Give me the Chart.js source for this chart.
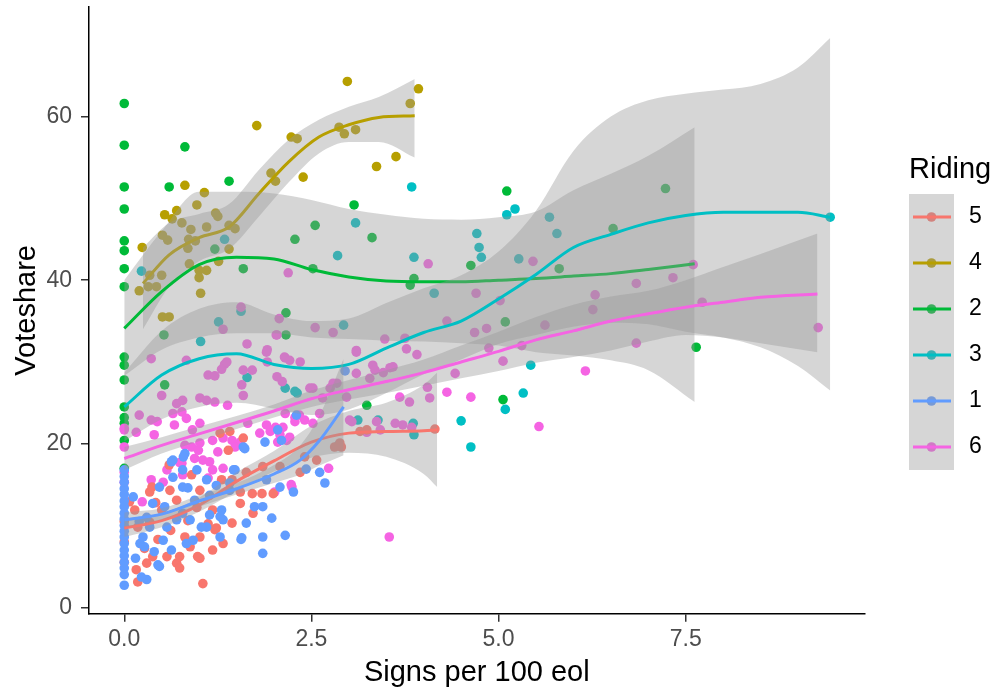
<!DOCTYPE html>
<html>
<head>
<meta charset="utf-8">
<script src="https://cdn.jsdelivr.net/npm/chart.js@4.4.1/dist/chart.umd.min.js"></script>
<style>
  html, body { margin: 0; padding: 0; background: #ffffff; }
</style>
</head>
<body>
<canvas id="myChart" width="993" height="698"></canvas>
<script>
// riding order as in the legend (factor levels)
var ridings = ['5', '4', '2', '3', '1', '6'];
var colours = ['#F8766D', '#B79F00', '#00BA38', '#00BFC4', '#619CFF', '#F564E3'];

var xTicks = [0, 2.5, 5, 7.5];
var yTicks = [0, 20, 40, 60];

// observed points [signs per 100 eol, voteshare]
var pts5 = [[1.05,2.9],[0.18,3.1],[0.16,4.6],[0.30,5.4],[0.38,6.2],[0.70,5.4],[0.74,6.2],[0.57,6.2],[0.98,6.2],[1.18,7.0],
  [0.88,7.4],[0.81,8.6],[1.01,8.6],[1.23,9.7],[1.44,10.3],[1.55,12.7],[1.72,11.5],[1.84,13.9],[1.71,13.9],[1.55,14.1],
  [1.18,11.9],[0.97,12.2],[0.50,11.9],[0.70,13.1],[1.01,14.3],[0.61,14.3],[0.34,14.1],[0.37,14.7],[1.30,15.6],[1.44,15.6],
  [1.63,16.5],[1.85,17.2],[2.08,17.2],[1.59,20.7],[1.41,21.5],[1.28,21.3],[1.39,19.2],[0.34,10.4],[0.18,9.8],[0.14,11.9],
  [0.07,12.9],[0.74,4.8],[1.01,6.0],[1.32,7.8],[1.21,9.5],[1.99,13.9],[2.35,16.5],[2.57,18.0],[2.41,18.4],[2.81,19.6],
  [2.90,19.6],[4.15,21.8],[3.24,21.7],[3.15,21.5],[2.88,20.1],[0.27,7.2],[0.45,8.3],[0.62,9.4],[0.85,10.6],[1.12,10.2],
  [0.42,12.8],[0.90,16.2],[0.60,17.4],[0,5.5],[0,8.0],[0,10.5]];
var pts4 = [[2.98,64.3],[3.93,63.4],[3.82,61.6],[1.77,58.9],[2.23,57.5],[2.31,57.3],[2.87,58.7],[2.94,57.9],[3.09,58.4],[3.63,55.1],
  [3.37,53.9],[2.39,52.6],[1.96,53.1],[2.02,52.1],[0.81,51.6],[1.07,50.7],[0.97,49.2],[0.54,48.0],[0.70,48.5],[0.64,47.5],
  [1.22,48.2],[1.25,47.8],[0.77,47.0],[0.89,46.2],[1.10,46.5],[1.48,46.3],[1.40,46.7],[0.51,45.5],[0.58,44.9],[0.86,45.0],
  [0.95,44.8],[0.24,44.0],[0.85,43.9],[1.40,43.8],[0.87,42.0],[1.00,41.2],[0.50,40.6],[1.10,41.2],[1.00,40.3],[1.26,42.3],
  [0.20,38.7],[0.32,39.2],[0.43,39.2],[1.02,38.4],[0.51,35.5],[0.60,35.5],[0.34,40.6]];
var pts2 = [[0,61.6],[0,56.5],[0,51.4],[0,48.7],[0,44.8],[0,43.6],[0,41.4],[0,39.2],[0,30.6],[0,29.6],
  [0,27.8],[0,24.5],[0,23.2],[0,22.5],[0,20.4],[0,17.0],[0.81,56.3],[0.60,51.4],[1.40,52.1],[3.07,49.2],
  [2.55,46.7],[2.28,45.0],[3.31,45.2],[1.21,43.8],[1.59,41.4],[3.87,40.2],[3.82,39.4],[2.16,36.0],[0.53,33.3],[2.16,33.3],
  [2.52,41.4],[0.54,27.2],[3.24,24.7],[5.11,50.9],[7.23,51.2],[6.53,46.3],[4.63,41.8],[5.81,41.4],[5.09,34.9],[7.64,31.8],
  [5.06,25.4]];
var pts3 = [[3.84,51.4],[1.34,45.0],[3.09,47.0],[2.85,43.0],[3.87,42.8],[4.71,45.7],[4.74,44.0],[4.77,42.8],[4.14,38.4],[0.23,41.1],
  [1.56,36.2],[1.26,34.9],[2.93,34.5],[1.02,32.5],[5.11,48.0],[5.22,48.7],[5.68,47.7],[5.78,45.7],[5.27,42.6],[9.43,47.7],
  [5.43,29.6],[4.50,22.8],[4.63,19.6],[5.33,26.2],[5.09,24.2],[2.31,26.2],[3.12,22.9],[3.39,22.9],[3.86,22.5],[3.87,21.1],
  [2.86,19.8],[1.64,28.1],[2.15,26.8],[2.28,26.4]];
var pts1 = [[0,2.7],[0,4.0],[0,4.8],[0,5.5],[0,6.3],[0,7.0],[0,7.8],[0,8.6],[0,9.3],[0,10.0],
  [0,10.8],[0,11.5],[0,12.3],[0,13.0],[0,13.8],[0,14.5],[0,15.3],[0,16.0],[0,16.8],[0.30,3.4],
  [0.45,5.2],[0.21,7.8],[0.25,8.6],[0.52,8.2],[0.63,7.0],[0.83,7.8],[0.92,8.2],[0.34,9.8],[0.57,9.8],[0.70,10.7],
  [0.88,10.7],[1.10,9.8],[0.78,11.5],[1.14,11.3],[1.30,11.9],[1.32,10.7],[1.28,8.6],[1.57,8.5],[1.85,8.6],[1.85,6.6],
  [2.15,8.8],[1.63,10.3],[1.74,12.3],[1.85,12.3],[1.97,10.9],[0.54,12.3],[0.38,12.7],[0.94,13.1],[1.14,13.7],[0.78,14.7],
  [0.47,14.7],[0.65,15.9],[0.78,16.8],[0.63,17.8],[0.97,16.8],[0.81,18.8],[1.23,14.9],[1.41,15.2],[1.59,19.6],[1.88,20.2],
  [1.90,15.6],[1.48,16.8],[2.10,20.4],[2.30,23.5],[1.56,8.3],[1.28,11.1],[1.03,9.8],[0.23,3.7],[0.47,5.0],[0.27,7.4],
  [2.08,14.7],[2.26,14.1],[2.43,16.9],[2.61,16.5],[2.68,15.2],[2.05,21.7],[1.61,19.4],[0.65,18.0],[0.79,18.4],[1.10,15.6],
  [0.85,14.6],[1.46,16.8],[1.41,14.3],[2.95,28.9],[0.15,6.0],[0.20,10.5],[0.12,13.5],[0.30,11.0],[0.40,6.8]];
var pts6 = [[2.19,40.9],[1.56,36.7],[2.07,35.3],[1.32,34.0],[0.36,30.4],[0.83,30.2],[1.64,32.2],[1.91,31.5],[2.04,33.3],[2.15,30.5],
  [1.34,29.7],[1.30,29.1],[1.12,28.4],[1.21,28.3],[1.59,29.0],[1.71,29.0],[2.04,28.2],[2.11,27.6],[1.57,27.2],[1.59,25.9],
  [0.50,25.9],[0.70,24.9],[0.78,25.3],[1.01,25.6],[1.10,25.3],[1.21,25.1],[1.38,24.7],[0.65,23.7],[0.77,23.9],[0.83,23.1],
  [0.20,23.5],[0.36,22.9],[0.44,22.7],[0.67,22.3],[0.91,21.7],[0.16,21.4],[0,21.7],[0.40,21.1],[1.01,22.5],[2.15,23.7],
  [2.02,22.0],[2.28,22.7],[1.91,30.0],[4.06,42.0],[4.70,38.4],[2.55,34.2],[2.79,33.6],[2.03,33.3],[4.31,35.0],[4.68,33.6],
  [4.84,34.1],[5.46,42.3],[5.02,37.5],[6.29,38.2],[6.26,36.4],[6.84,39.6],[7.33,40.3],[7.60,41.9],[7.72,37.3],[9.27,34.2],
  [5.62,34.5],[4.87,31.7],[5.31,32.0],[6.84,32.3],[5.06,30.1],[6.16,28.9],[5.54,22.1],[4.63,25.7],[4.42,28.6],[3.54,8.6],
  [4.31,26.3],[2.73,17.0],[2.23,15.0],[2.01,14.1],[0.24,12.9],[1.32,20.7],[1.44,20.4],[1.55,20.2],[1.01,20.1],[0.90,19.6],
  [0.94,18.2],[1.05,18.0],[1.14,17.8],[1.32,17.0],[0.77,17.6],[0.78,16.2],[1.12,15.8],[0.52,15.3],[0.36,15.6],[1.81,21.3],
  [1.95,21.5],[2.08,21.1],[2.21,20.8],[1.48,19.6],[1.25,19.0],[2.24,14.7],[0,19.6],[0,15.3],[1.18,20.4],[1.65,22.5],
  [1.90,22.3],[2.12,22.0],[2.05,20.2],[2.17,20.4],[0.81,19.8],[0.99,19.2],[1.18,16.8],[0.74,17.7],[0.57,16.8],[0,21.9],
  [0,16.5],[1.37,30.0],[1.90,31.2],[2.14,30.6],[2.35,30.0],[3.10,31.2],[3.77,31.6],[3.91,30.9],[3.32,29.6],[3.46,28.7],
  [3.59,29.4],[3.10,28.6],[2.79,27.4],[2.52,26.8],[2.97,25.7],[3.68,25.7],[3.81,25.1],[4.08,25.6],[3.62,22.5],[3.72,22.3],
  [3.84,22.0],[3.01,22.9],[3.24,21.4],[3.42,21.7],[3.48,32.8],[3.75,32.9],[3.10,31.4],[4.05,26.9],[3.28,28.0],[3.35,29.0],
  [3.55,29.3],[2.48,26.8],[2.65,25.6],[2.75,26.8],[2.84,27.4],[3.04,22.7],[3.37,22.7],[2.28,23.2],[2.34,23.5],[2.61,23.7],
  [2.41,22.9],[2.52,22.5],[2.21,30.2]];

// loess fits: x, fitted value, lower and upper band
var fit5x  = [0, 0.5, 1.0, 1.5, 2.0, 2.5, 3.0, 3.5, 4.0, 4.18];
var fit5y  = [9.7, 10.6, 12.5, 15.4, 17.9, 20.2, 21.3, 21.5, 21.6, 21.7];
var fit5lo = [8.6, 9.8, 11.7, 14.2, 16.6, 18.3, 18.9, 18.4, 16.3, 14.7];
var fit5hi = [10.8, 11.5, 13.4, 16.5, 19.1, 22.2, 24.0, 25.0, 27.2, 28.7];

var fit4x  = [0.25, 0.6, 1.0, 1.4, 1.8, 2.2, 2.6, 3.0, 3.4, 3.88];
var fit4y  = [39.6, 43.1, 45.2, 46.5, 50.6, 54.5, 57.5, 59.0, 59.9, 60.1];
var fit4lo = [34.0, 39.2, 42.3, 43.8, 47.8, 52.0, 55.5, 56.9, 56.9, 55.0];
var fit4hi = [44.0, 47.0, 48.1, 49.3, 53.5, 57.2, 59.6, 61.2, 62.4, 64.6];

var fit2x  = [0, 0.5, 1.0, 1.5, 2.0, 2.5, 3.0, 3.5, 4.0, 4.5, 5.0, 5.5, 6.0, 6.5, 7.0, 7.62];
var fit2y  = [34.1, 38.6, 41.9, 42.8, 42.6, 41.3, 40.4, 39.9, 39.8, 39.8, 40.0, 40.2, 40.5, 40.8, 41.3, 42.0];
var fit2lo = [28.3, 31.5, 33.0, 33.5, 33.5, 33.0, 32.8, 32.6, 32.5, 32.3, 32.0, 31.2, 30.8, 30.2, 29.0, 25.1];
var fit2hi = [40.0, 46.0, 50.8, 50.8, 50.6, 49.8, 48.7, 48.0, 47.5, 47.4, 47.7, 48.4, 51.0, 53.0, 55.2, 58.7];

var fit3x  = [0, 0.5, 1.0, 1.5, 2.0, 2.5, 3.0, 3.5, 4.0, 4.5, 5.0, 5.5, 6.0, 6.5, 7.0, 7.5, 8.0, 8.5, 9.0, 9.43];
var fit3y  = [24.5, 28.4, 30.4, 31.0, 29.7, 29.2, 29.7, 31.7, 33.6, 35.0, 37.7, 40.7, 44.0, 45.6, 47.0, 47.9, 48.3, 48.3, 48.3, 47.7];
var fit3lo = [20.3, 23.0, 24.5, 25.0, 24.3, 23.5, 24.2, 26.2, 28.5, 30.3, 32.2, 33.3, 34.3, 34.8, 34.6, 33.7, 33.0, 31.8, 29.5, 26.5];
var fit3hi = [28.7, 33.8, 36.5, 37.3, 35.8, 35.0, 35.3, 37.2, 39.0, 40.6, 43.5, 48.5, 55.8, 60.0, 62.0, 62.8, 63.3, 64.0, 66.0, 69.6];

var fit1x  = [0, 0.5, 1.0, 1.5, 2.0, 2.35, 2.6, 2.93];
var fit1y  = [10.7, 11.4, 13.0, 14.5, 16.3, 18.0, 20.3, 24.5];
var fit1lo = [9.8, 10.7, 12.3, 13.8, 15.2, 16.2, 17.3, 18.6];
var fit1hi = [11.6, 12.1, 13.7, 15.2, 17.4, 19.8, 23.3, 30.4];

var fit6x  = [0, 0.5, 1.0, 1.5, 2.0, 2.5, 3.0, 3.5, 4.0, 4.5, 5.0, 5.5, 6.0, 6.5, 7.0, 7.5, 8.0, 8.5, 9.26];
var fit6y  = [18.2, 19.8, 21.2, 22.6, 24.0, 25.5, 26.6, 27.6, 28.7, 30.0, 31.3, 32.7, 33.8, 35.0, 35.9, 36.7, 37.3, 37.9, 38.3];
var fit6lo = [16.8, 18.8, 20.3, 21.8, 23.2, 24.5, 25.4, 26.2, 27.1, 28.0, 28.9, 29.9, 30.6, 31.4, 32.5, 33.3, 33.0, 32.3, 31.2];
var fit6hi = [19.6, 20.8, 22.1, 23.4, 24.8, 26.5, 27.8, 29.0, 30.3, 32.0, 33.7, 35.5, 37.0, 38.0, 38.7, 40.0, 41.6, 43.2, 45.7];

var points = [pts5, pts4, pts2, pts3, pts1, pts6];
var fitX = [fit5x, fit4x, fit2x, fit3x, fit1x, fit6x];
var fitY = [fit5y, fit4y, fit2y, fit3y, fit1y, fit6y];
var fitLo = [fit5lo, fit4lo, fit2lo, fit3lo, fit1lo, fit6lo];
var fitHi = [fit5hi, fit4hi, fit2hi, fit3hi, fit1hi, fit6hi];

var bandFill = 'rgba(153,153,153,0.4)';
var fontFamily = '"Liberation Sans", Arial, sans-serif';

function toXY(xs, ys) {
  return xs.map(function (x, j) { return { x: x, y: ys[j] }; });
}

var datasets = [];

// points go under everything; draw order olive, green, cyan, pink, red, blue
var pointDrawRank = { '4': 0, '2': 1, '3': 2, '6': 3, '5': 4, '1': 5 };
ridings.forEach(function (r, i) {
  datasets.push({
    type: 'scatter',
    label: r,
    data: points[i].map(function (p) { return { x: p[0], y: p[1] }; }),
    backgroundColor: colours[i],
    borderColor: colours[i],
    borderWidth: 0,
    pointRadius: 4.8,
    pointHoverRadius: 4.8,
    order: 200 - pointDrawRank[r]
  });
});

// then, group by group: band, then fitted line (like geom_smooth)
ridings.forEach(function (r, i) {
  var base = 100 - i * 3;
  datasets.push({
    type: 'line',
    label: r + ' lower',
    data: toXY(fitX[i], fitLo[i]),
    borderColor: 'rgba(0,0,0,0)',
    borderWidth: 0,
    pointRadius: 0,
    fill: false,
    cubicInterpolationMode: 'monotone',
    order: base
  });
  datasets.push({
    type: 'line',
    label: r + ' upper',
    data: toXY(fitX[i], fitHi[i]),
    borderColor: 'rgba(0,0,0,0)',
    borderWidth: 0,
    pointRadius: 0,
    fill: '-1',
    backgroundColor: bandFill,
    cubicInterpolationMode: 'monotone',
    order: base - 1
  });
  datasets.push({
    type: 'line',
    label: r + ' fit',
    data: toXY(fitX[i], fitY[i]),
    borderColor: colours[i],
    borderWidth: 3,
    pointRadius: 0,
    fill: false,
    cubicInterpolationMode: 'monotone',
    order: base - 2
  });
});

// ggplot-like legend on the right
var ridingLegend = {
  id: 'ridingLegend',
  afterDraw: function (chart) {
    var ctx = chart.ctx;
    var left = 909, top = 194, keyW = 45, keyH = 46;
    ctx.save();
    ctx.fillStyle = '#000000';
    ctx.textAlign = 'left';
    ctx.textBaseline = 'middle';
    ctx.font = '29px ' + fontFamily;
    ctx.fillText('Riding', left, 170);
    ridings.forEach(function (r, i) {
      var cy = top + keyH * i + keyH / 2;
      ctx.beginPath();
      ctx.arc(left + keyW / 2, cy, 4.8, 0, Math.PI * 2);
      ctx.fillStyle = colours[i];
      ctx.fill();
    });
    ctx.fillStyle = bandFill;
    ctx.fillRect(left, top, keyW, keyH * ridings.length);
    ridings.forEach(function (r, i) {
      var cy = top + keyH * i + keyH / 2;
      ctx.beginPath();
      ctx.moveTo(left + 4, cy);
      ctx.lineTo(left + keyW - 3, cy);
      ctx.strokeStyle = colours[i];
      ctx.lineWidth = 3;
      ctx.stroke();
      ctx.fillStyle = '#000000';
      ctx.font = '23px ' + fontFamily;
      ctx.fillText(r, left + 60, cy);
    });
    ctx.restore();
  }
};

function noEdgePadding(axis) {
  axis.paddingTop = 0;
  axis.paddingBottom = 0;
  axis.paddingLeft = 0;
  axis.paddingRight = 0;
}

var ctx = document.getElementById('myChart').getContext('2d');
var myChart = new Chart(ctx, {
  type: 'scatter',
  data: { datasets: datasets },
  plugins: [ridingLegend],
  options: {
    responsive: false,
    animation: false,
    events: [],
    layout: { padding: { left: 0, top: 7, right: 128.4, bottom: 0 } },
    plugins: {
      legend: { display: false },
      tooltip: { enabled: false }
    },
    scales: {
      x: {
        type: 'linear',
        min: -0.471,
        max: 9.89,
        afterBuildTicks: function (axis) {
          axis.ticks = xTicks.map(function (v) { return { value: v }; });
        },
        afterFit: function (axis) { axis.height = 84.3; noEdgePadding(axis); },
        grid: { drawOnChartArea: false, drawTicks: true, tickLength: 8, color: '#333333', lineWidth: 1.5 },
        border: { display: true, color: '#000000', width: 1.5 },
        ticks: {
          color: '#4D4D4D',
          font: { family: fontFamily, size: 23 },
          padding: 4.5,
          maxRotation: 0,
          autoSkip: false,
          callback: function (v) { return v.toFixed(1); }
        },
        title: {
          display: true,
          text: 'Signs per 100 eol',
          color: '#000000',
          font: { family: fontFamily, size: 29 },
          padding: { top: 0, bottom: 7.6 }
        }
      },
      y: {
        type: 'linear',
        min: -0.78,
        max: 73.4,
        afterBuildTicks: function (axis) {
          axis.ticks = yTicks.map(function (v) { return { value: v }; });
        },
        afterFit: function (axis) { axis.width = 89; noEdgePadding(axis); },
        grid: { drawOnChartArea: false, drawTicks: true, tickLength: 8, color: '#333333', lineWidth: 1.5 },
        border: { display: true, color: '#000000', width: 1.5 },
        ticks: {
          color: '#4D4D4D',
          font: { family: fontFamily, size: 23 },
          padding: 9,
          autoSkip: false,
          callback: function (v) { return String(v); }
        },
        title: {
          display: true,
          text: 'Voteshare',
          color: '#000000',
          font: { family: fontFamily, size: 29 },
          padding: { top: 9.6, bottom: 0 }
        }
      }
    }
  }
});
</script>
</body>
</html>
